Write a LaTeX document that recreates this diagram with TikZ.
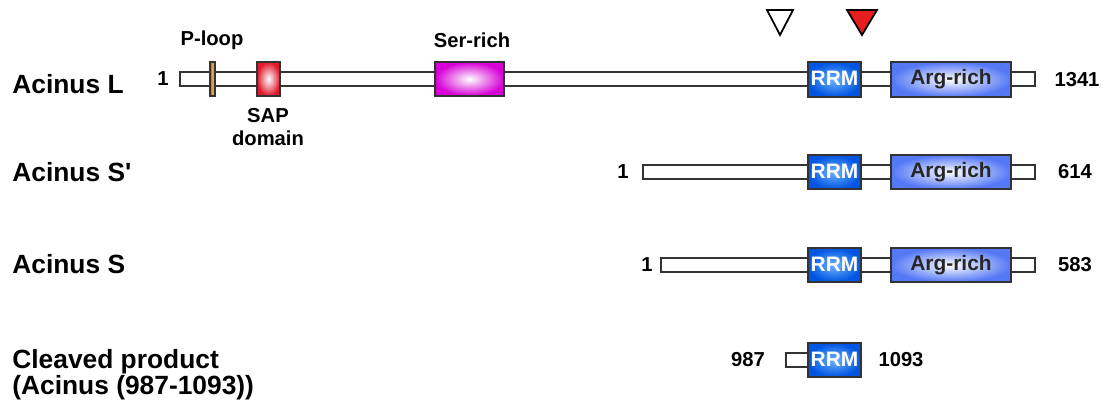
\documentclass[tikz,border=0pt]{standalone}
\usepackage{fontspec}
\setmainfont{Liberation Sans}
\usepackage{tikz}
\definecolor{rrmblue}{RGB}{0,85,225}
\definecolor{rrmlight}{RGB}{110,180,255}
\definecolor{argblue}{RGB}{85,120,245}
\definecolor{sapred}{RGB}{225,25,45}
\definecolor{sermag}{RGB}{215,0,215}
\definecolor{ploopbr}{RGB}{190,90,30}
\definecolor{ploopl}{RGB}{235,180,70}
\definecolor{cleavred}{RGB}{230,30,30}

\tikzset{
  bar/.style={draw=black!80, line width=1pt, fill=white},
  dom/.style={draw=black!80, line width=1pt},
  rrm/.style={dom, inner color=rrmlight, outer color=rrmblue},
  arg/.style={dom, inner color=white, outer color=argblue},
  sap/.style={dom, inner color=white, outer color=sapred},
  ser/.style={dom, inner color=white, outer color=sermag},
  ploop/.style={dom, left color=ploopbr, right color=ploopbr, middle color=ploopl},
  lbl/.style={font=\bfseries\fontsize{11.5}{13}\selectfont, inner sep=0pt},
  domlbl/.style={font=\bfseries\fontsize{11.9}{14}\selectfont, inner sep=0pt, anchor=base},
  isoname/.style={font=\bfseries\fontsize{15}{14.8}\selectfont, anchor=west, inner sep=0pt, align=left},
}

\begin{document}
\begin{tikzpicture}[x=0.02cm, y=-0.02cm]
    \useasboundingbox (0,0) rectangle (1104,412);

    % isoform names
    \node[isoname] (nameL) at (12,84) {Acinus L};
    \node[isoname] (nameSp) at (12,172) {Acinus S\textquotesingle};
    \node[isoname] (nameS) at (12,264) {Acinus S};
    \node[isoname] (nameC) at (12,375) {Cleaved product\\(Acinus (987-1093))};

    % Acinus L
    \draw[bar] (180,72) rectangle (1035,86);
    \path[ploop] (210,62) rectangle (215,96);
    \path[sap] (257,62) rectangle (280,96);
    \path[ser] (435,62) rectangle (504,96);
    \path[rrm] (808,62) rectangle (861,97);
    \path[arg] (891,62) rectangle (1011,97);
    \node[domlbl, white] (rrmL) at (834.5,86) {RRM};
    \node[domlbl, black!85] (argL) at (951,85) {Arg-rich};
    \node[lbl] (startL) at (163,79) {1};
    \node[lbl] (endL) at (1077,80) {1341};
    \node[lbl] (plooplbl) at (212,40) {P-loop};
    \node[lbl, align=center] (saplbl) at (268,127) {SAP\\domain};
    \node[lbl] (serlbl) at (472,40) {Ser-rich};

    % cleavage sites
    \draw[line width=1pt, fill=white] (767,10) -- (793,10) -- (780,35) -- cycle;
    \draw[line width=1pt, fill=cleavred] (847,10) -- (877,10) -- (862,35) -- cycle;

    % Acinus S' and S
    \foreach \y/\s/\sx/\e/\nm in {172/643/623/614/Sp, 265/661/647/583/S} {
        \draw[bar] (\s,\y-7) rectangle (1035,\y+7);
        \path[rrm] (808,\y-17) rectangle (861,\y+17);
        \path[arg] (891,\y-17) rectangle (1011,\y+17);
        \node[domlbl, white] (rrm\nm) at (834.5,\y+6.5) {RRM};
        \node[domlbl, black!85] (arg\nm) at (951,\y+5.5) {Arg-rich};
        \node[lbl] (start\nm) at (\sx,\y) {1};
        \node[lbl] (end\nm) at (1075,\y) {\e};
    }

    % cleaved product
    \draw[bar] (786,353) rectangle (808,367);
    \path[rrm] (808,343) rectangle (861,377);
    \node[domlbl, white] (rrmC) at (834.5,366.5) {RRM};
    \node[lbl] (startC) at (748,360) {987};
    \node[lbl] (endC) at (901,360) {1093};
\end{tikzpicture}
\end{document}
